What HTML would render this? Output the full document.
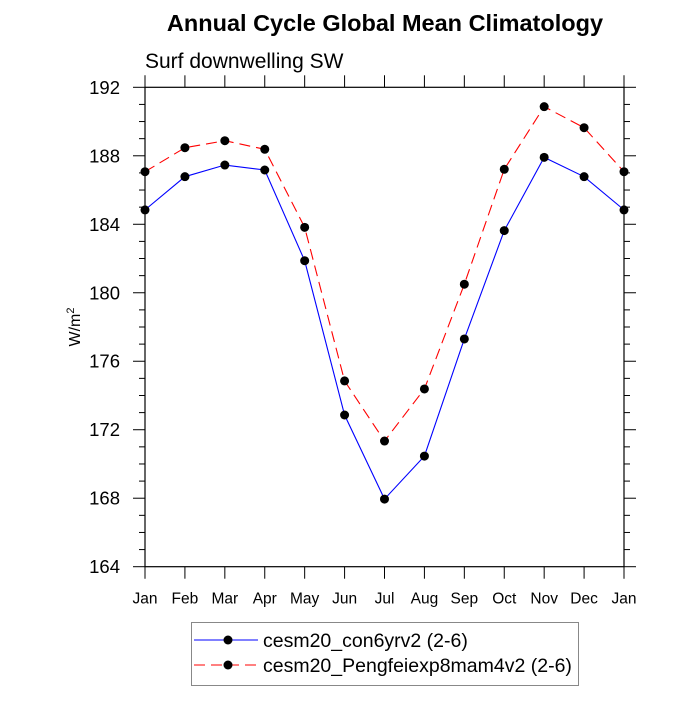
<!DOCTYPE html>
<html><head><meta charset="utf-8"><style>
body{margin:0;background:#fff}
svg{font-family:"Liberation Sans",sans-serif}
</style></head><body>
<svg id="chart" width="700" height="700">
<text x="385" y="31" text-anchor="middle" font-size="23.5" font-weight="bold">Annual Cycle Global Mean Climatology</text>
<text x="145" y="68" font-size="21">Surf downwelling SW</text>
<text transform="translate(80,327) rotate(-90)" text-anchor="middle" font-size="16">W/m<tspan dy="-6" font-size="11">2</tspan></text>
<g id="axes"></g>
<g id="series"></g>
<g>
<rect x="191.5" y="622.5" width="387" height="63" fill="none" stroke="#888"/>
<g>
<line x1="194" y1="640" x2="258" y2="640" stroke="#0000ff" stroke-width="1"/>
<circle cx="228" cy="640" r="4.5" fill="#000"/>
<text x="263" y="647" font-size="19.5">cesm20_con6yrv2 (2-6)</text>
</g>
<g>
<line x1="194" y1="665" x2="258" y2="665" stroke="#ff0000" stroke-width="1" stroke-dasharray="11,6"/>
<circle cx="228" cy="665" r="4.5" fill="#000"/>
<text x="263" y="672" font-size="19.5">cesm20_Pengfeiexp8mam4v2 (2-6)</text>
</g>
</g>
</svg>
<script>
const months=["Jan","Feb","Mar","Apr","May","Jun","Jul","Aug","Sep","Oct","Nov","Dec","Jan"];
const controlValues=[184.84,186.78,187.46,187.17,181.87,172.86,167.95,170.46,177.3,183.63,187.91,186.78,184.84];
const expValues=[187.07,188.47,188.88,188.38,183.82,174.85,171.34,174.38,180.5,187.21,190.87,189.64,187.07];
const yTicks=[164,168,172,176,180,184,188,192];
const NS="http://www.w3.org/2000/svg";
const X0=145,X1=624,Y0=566.7,Y1=87.3,ymin=164,ymax=192;
function xs(i){return X0+(X1-X0)*i/(months.length-1);}
function ys(v){return Y0-(v-ymin)/(ymax-ymin)*(Y0-Y1);}
function mk(tag,attrs,parent){const e=document.createElementNS(NS,tag);for(const k in attrs)e.setAttribute(k,attrs[k]);parent.appendChild(e);return e;}
const axes=document.getElementById('axes');
const frame=mk('rect',{x:X0,y:Y1,width:X1-X0,height:Y0-Y1,fill:'none',stroke:'#000','stroke-width':1.2},axes);


for(let i=0;i<months.length;i++){
  const x=xs(i);
  mk('line',{x1:x,y1:Y0,x2:x,y2:Y0+12,stroke:'#000'},axes);
  mk('line',{x1:x,y1:Y1,x2:x,y2:Y1-12,stroke:'#000'},axes);
  const t=mk('text',{x:x,y:Y0+37,'text-anchor':'middle','font-size':15.5},axes);
  t.textContent=months[i];
  
  
}
for(let v=ymin;v<=ymax;v++){
  const y=ys(v);const major=yTicks.includes(v);const L=major?12:6;
  mk('line',{x1:X0-L,y1:y,x2:X0,y2:y,stroke:'#000'},axes);
  mk('line',{x1:X1,y1:y,x2:X1+L,y2:y,stroke:'#000'},axes);
}
yTicks.forEach(v=>{
  const t=mk('text',{x:120,y:ys(v)+6.5,'text-anchor':'end','font-size':18.5},axes);
  t.textContent=v;
  
  
});
const sg=document.getElementById('series');
function drawSeries(vals,color,dash,name){
  const g=mk('g',{},sg);
  
  
  const pts=vals.map((v,i)=>xs(i)+','+ys(v)).join(' ');
  const attrs={points:pts,fill:'none',stroke:color,'stroke-width':1.1};
  if(dash)attrs['stroke-dasharray']=dash;
  mk('polyline',attrs,g);
  vals.forEach((v,i)=>{
    const c=mk('circle',{cx:xs(i),cy:ys(v),r:4.5,fill:'#000'},g);
    
    
  });
}
drawSeries(controlValues,'#0000ff',null,'series-control');
drawSeries(expValues,'#ff0000','11,6','series-experiment');
</script>
</body></html>
